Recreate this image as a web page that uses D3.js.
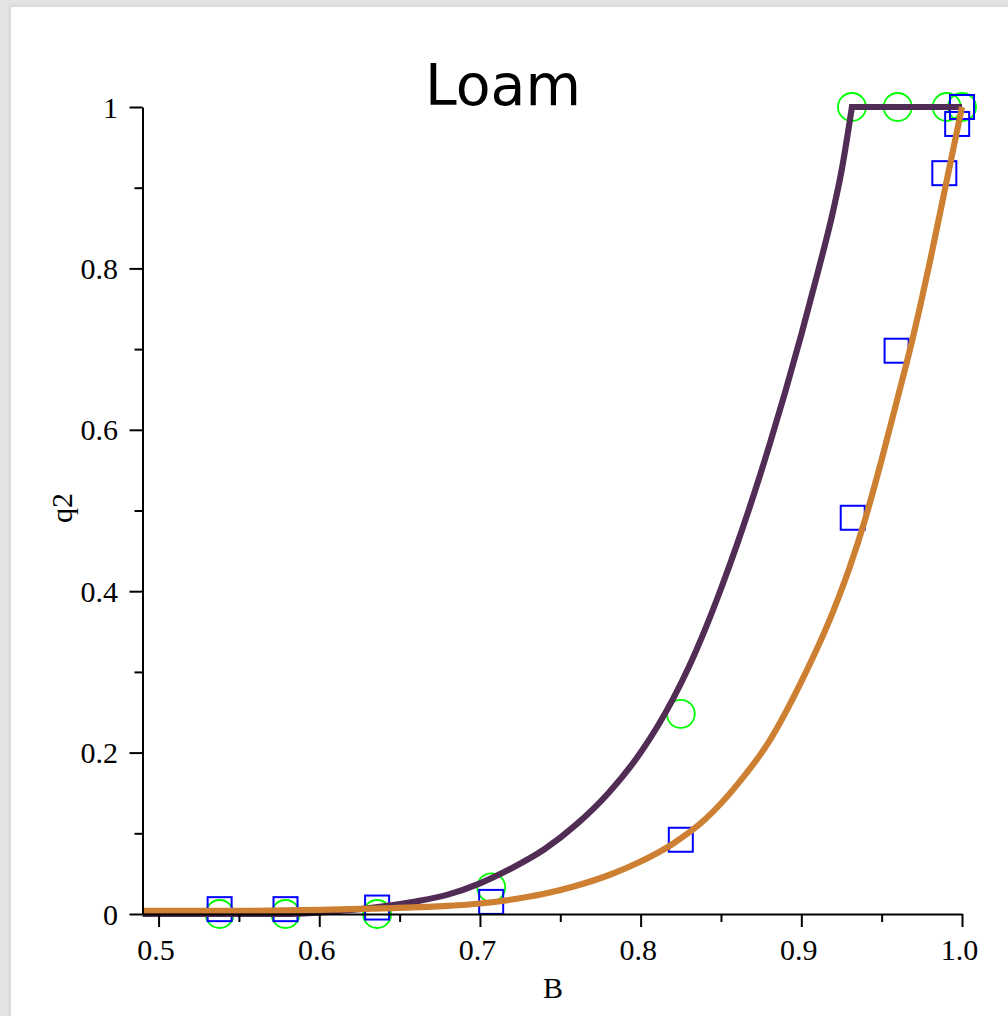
<!DOCTYPE html>
<html>
<head>
<meta charset="utf-8">
<script src="https://cdn.jsdelivr.net/npm/d3@7"></script>
<style>
  html, body { margin: 0; padding: 0; background: #e4e4e4; width: 1008px; height: 1016px; overflow: hidden; }
  #panel { position: absolute; left: 11px; top: 7px; width: 1010px; height: 1020px; background: #ffffff; box-shadow: -2px -2px 4px rgba(0,0,0,0.06); }
  svg { position: absolute; left: 0; top: 0; }
</style>
</head>
<body>
<div id="panel"></div>
<svg id="chart" width="1008" height="1016"></svg>
<script>
// ---- data ----
const title = "Loam";
const xLabel = "B";
const yLabel = "q2";

const xTickValues = [0.5, 0.6, 0.7, 0.8, 0.9, 1.0];
const xTickLabels = ["0.5", "0.6", "0.7", "0.8", "0.9", "1.0"];
const xMinorTicks = [0.55, 0.65, 0.75, 0.85, 0.95];
const yTickValues = [0, 0.2, 0.4, 0.6, 0.8, 1];
const yTickLabels = ["0", "0.2", "0.4", "0.6", "0.8", "1"];
const yMinorTicks = [0.1, 0.3, 0.5, 0.7, 0.9];

// observed points: green circles
const circleB = [0.538, 0.579, 0.636, 0.707, 0.825, 0.9315, 0.960, 0.9905, 1.0];
const circleQ = [0.0, 0.0, 0.0, 0.033, 0.248, 1.0, 1.0, 1.0, 1.0];
// observed points: blue squares
const squareB = [0.538, 0.579, 0.636, 0.707, 0.825, 0.932, 0.9593, 0.989, 0.997, 1.0];
const squareQ = [0.006, 0.006, 0.008, 0.015, 0.092, 0.491, 0.698, 0.918, 0.979, 1.0];

// fitted curve 1 (dark purple): rising part, then flat at 1
const purpleB = [0.49, 0.58, 0.60, 0.62, 0.64, 0.66, 0.68, 0.70, 0.72, 0.74, 0.76, 0.78, 0.80, 0.82, 0.83, 0.84, 0.85, 0.86, 0.87, 0.88, 0.89, 0.90, 0.91, 0.92, 0.925, 0.9315];
const purpleQ = [0.0, 0.0, 0.002, 0.005, 0.0095, 0.0155, 0.024, 0.038, 0.057, 0.080, 0.111, 0.150, 0.200, 0.266, 0.306, 0.352, 0.403, 0.458, 0.517, 0.580, 0.647, 0.718, 0.793, 0.873, 0.9205, 1.0];
const purpleFlatB = [0.9315, 1.0];
const purpleFlatQ = [1.0, 1.0];

// fitted curve 2 (orange)
const orangeB = [0.49, 0.55, 0.60, 0.64, 0.68, 0.70, 0.72, 0.74, 0.76, 0.78, 0.80, 0.82, 0.84, 0.86, 0.88, 0.90, 0.92, 0.93, 0.94, 0.95, 0.96, 0.97, 0.98, 0.99, 1.0];
const orangeQ = [0.004, 0.004, 0.005, 0.007, 0.010, 0.013, 0.018, 0.025, 0.035, 0.048, 0.065, 0.087, 0.117, 0.160, 0.214, 0.288, 0.376, 0.429, 0.491, 0.563, 0.640, 0.719, 0.808, 0.904, 1.0];

// ---- drawing ----
const svg = d3.select("#chart");
const x = d3.scaleLinear().domain([0.49, 1.0]).range([142.5, 962]);
const y = d3.scaleLinear().domain([0, 1]).range([914, 107]);

const serif = "'Liberation Serif', 'Times New Roman', serif";

// title
svg.append("text")
  .attr("x", 503).attr("y", 105)
  .attr("text-anchor", "middle")
  .attr("font-family", "'DejaVu Sans', sans-serif")
  .attr("font-size", 57)
  .attr("fill", "#000")
  .text(title);

// markers (drawn under the curves)
const zipC = circleB.map((b, i) => ({ b, q: circleQ[i] }));
const zipS = squareB.map((b, i) => ({ b, q: squareQ[i] }));

svg.append("g").selectAll("circle").data(zipC).join("circle")
  .attr("cx", d => x(d.b)).attr("cy", d => y(d.q)).attr("r", 14)
  .attr("fill", "none").attr("stroke", "#00ff00").attr("stroke-width", 1.8);

const sq = 24;
svg.append("g").selectAll("rect").data(zipS).join("rect")
  .attr("x", d => x(d.b) - sq / 2).attr("y", d => y(d.q) - sq / 2)
  .attr("width", sq).attr("height", sq)
  .attr("fill", "none").attr("stroke", "#0000ff").attr("stroke-width", 2);

// curves
const smooth = d3.line().x(d => x(d.b)).y(d => y(d.q)).curve(d3.curveMonotoneX);
const straight = d3.line().x(d => x(d.b)).y(d => y(d.q));
const purpleRise = purpleB.map((b, i) => ({ b, q: purpleQ[i] }));
const purpleFlat = purpleFlatB.map((b, i) => ({ b, q: purpleFlatQ[i] }));
svg.append("path")
  .attr("d", smooth(purpleRise) + straight(purpleFlat).replace(/^M/, "L"))
  .attr("fill", "none")
  .attr("stroke", "#512d55").attr("stroke-width", 6.2)
  .attr("stroke-linejoin", "miter");
svg.append("path")
  .datum(orangeB.map((b, i) => ({ b, q: orangeQ[i] })))
  .attr("d", smooth).attr("fill", "none")
  .attr("stroke", "#cd7f32").attr("stroke-width", 6.2);

// axes
function styleAxis(g) {
  g.selectAll("path.domain").attr("stroke", "#000").attr("stroke-width", 2);
  g.selectAll(".tick line").attr("stroke", "#000").attr("stroke-width", 2);
}

const gx = svg.append("g").attr("transform", `translate(0,${y(0)})`);
gx.call(d3.axisBottom(x).tickValues(xTickValues).tickSize(13).tickSizeOuter(0)
  .tickFormat((d, i) => xTickLabels[i]));
styleAxis(gx);
gx.selectAll(".tick text")
  .attr("font-family", serif).attr("font-size", 30).attr("fill", "#000")
  .attr("dy", null).attr("y", 46).attr("dx", -3);

const gxm = svg.append("g").attr("transform", `translate(0,${y(0)})`);
gxm.call(d3.axisBottom(x).tickValues(xMinorTicks).tickSize(8).tickSizeOuter(0).tickFormat(""));
gxm.select("path.domain").remove();
styleAxis(gxm);

const gy = svg.append("g").attr("transform", `translate(${x(0.49)},0)`);
gy.call(d3.axisLeft(y).tickValues(yTickValues).tickSize(13).tickSizeOuter(0)
  .tickFormat((d, i) => yTickLabels[i]));
styleAxis(gy);
gy.selectAll(".tick text")
  .attr("font-family", serif).attr("font-size", 30).attr("fill", "#000")
  .attr("dy", null).attr("x", -24.5).attr("y", 10);

const gym = svg.append("g").attr("transform", `translate(${x(0.49)},0)`);
gym.call(d3.axisLeft(y).tickValues(yMinorTicks).tickSize(8).tickSizeOuter(0).tickFormat(""));
gym.select("path.domain").remove();
styleAxis(gym);

// axis labels
svg.append("text")
  .attr("x", 553).attr("y", 998)
  .attr("text-anchor", "middle")
  .attr("font-family", serif).attr("font-size", 30).attr("fill", "#000")
  .text(xLabel);

svg.append("text")
  .attr("transform", "translate(72,508) rotate(-90)")
  .attr("text-anchor", "middle")
  .attr("font-family", serif).attr("font-size", 30).attr("fill", "#000")
  .text(yLabel);
</script>
</body>
</html>
